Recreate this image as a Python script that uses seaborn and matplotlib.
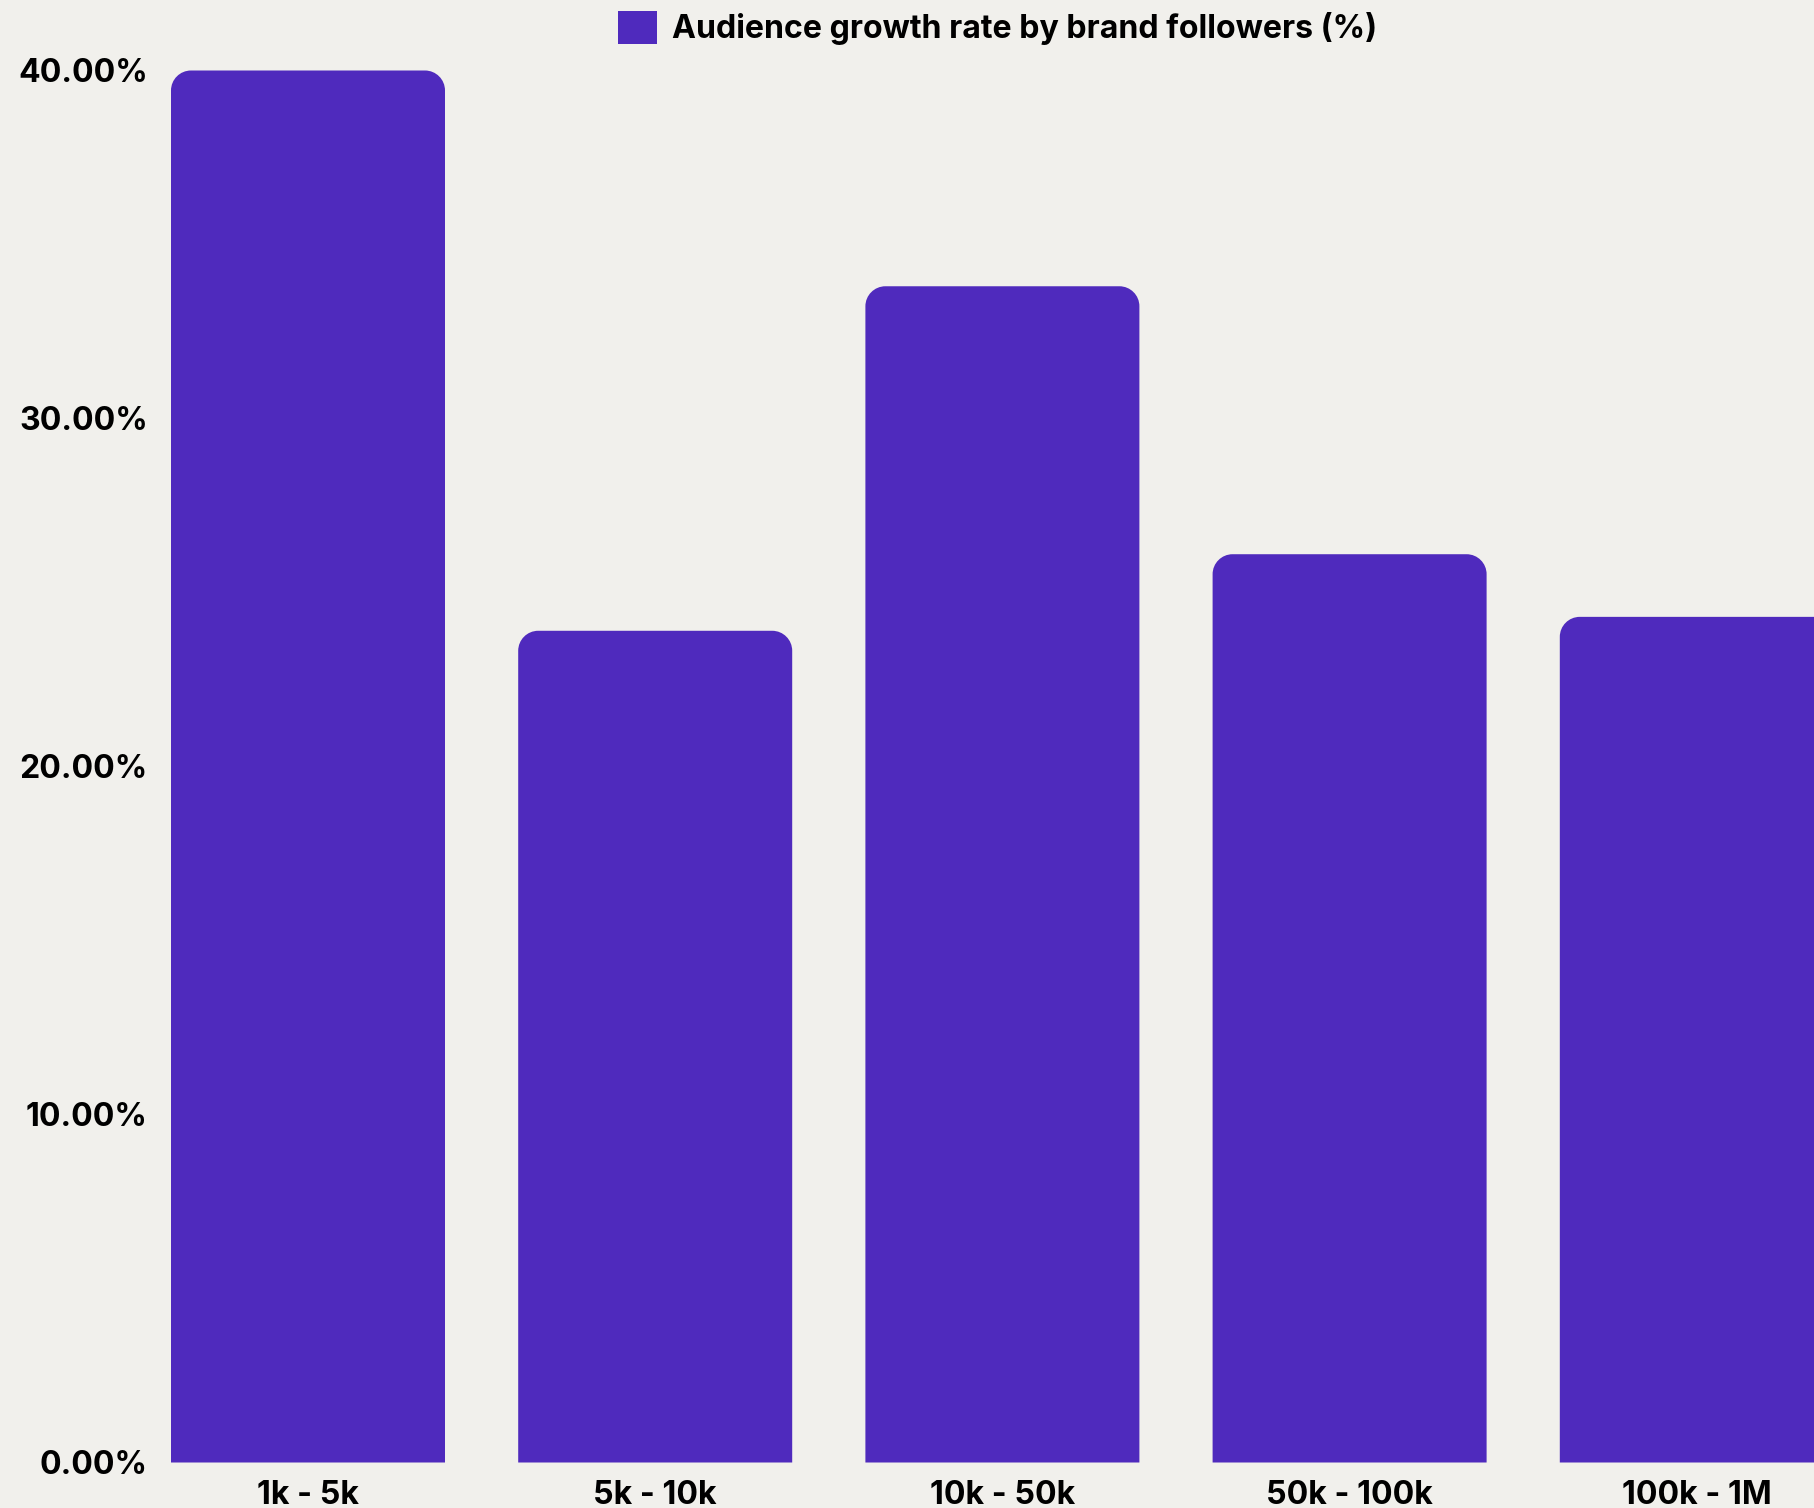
import matplotlib
matplotlib.use("Agg")
import matplotlib.pyplot as plt
from matplotlib.path import Path
from matplotlib.patches import PathPatch, Patch
import pandas as pd
import seaborn as sns

# Audience growth by follower bracket
categories = ["1k - 5k", "5k - 10k", "10k - 50k", "50k - 100k", "100k - 1M"]
growth_rate = [40.0, 23.9, 33.8, 26.1, 24.3]
y_ticks = [0, 10, 20, 30, 40]
series_name = "Audience growth rate by brand followers (%)"

BAR = "#4F2ABD"
BG = "#F1F0EC"
FONT = ["Inter", "DejaVu Sans"]
FS = 23.1

sns.set_theme(style="white")
plt.rcParams["font.family"] = FONT
plt.rcParams["font.weight"] = "bold"
plt.rcParams["text.color"] = "black"

W, H = 1814, 1508
fig = plt.figure(figsize=(W / 100, H / 100), dpi=100, facecolor=BG)

# axes geometry in pixels
left_px, bottom_px = 150, 1462.5
px_per_cat, first_center = 347.2, 308.0
px_per_unit = 34.8
ax = fig.add_axes([left_px / W, (H - bottom_px) / H, 1 - left_px / W, bottom_px / H])
ax.set_facecolor(BG)

df = pd.DataFrame({"bracket": categories, "rate": growth_rate})
sns.barplot(data=df, x="bracket", y="rate", color=BAR, saturation=1,
            width=274 / px_per_cat, ax=ax, errorbar=None)

ax.set_xlim((left_px - first_center) / px_per_cat, (W - first_center) / px_per_cat)
ax.set_ylim(0, bottom_px / px_per_unit)

# swap plain rectangles for bars with rounded top corners
rx = 20 / px_per_cat
ry = 20 / px_per_unit
k = 0.5523
for bar in list(ax.patches):
    x0, y0 = bar.get_x(), bar.get_y()
    w, h = bar.get_width(), bar.get_height()
    x1, y1 = x0 + w, y0 + h
    verts = [(x0, y0), (x0, y1 - ry),
             (x0, y1 - ry + k * ry), (x0 + rx - k * rx, y1), (x0 + rx, y1),
             (x1 - rx, y1),
             (x1 - rx + k * rx, y1), (x1, y1 - ry + k * ry), (x1, y1 - ry),
             (x1, y0), (x0, y0)]
    codes = [Path.MOVETO, Path.LINETO,
             Path.CURVE4, Path.CURVE4, Path.CURVE4,
             Path.LINETO,
             Path.CURVE4, Path.CURVE4, Path.CURVE4,
             Path.LINETO, Path.CLOSEPOLY]
    ax.add_patch(PathPatch(Path(verts, codes), facecolor=BAR, edgecolor="none", clip_on=True))
    bar.remove()

ax.set_yticks(y_ticks)
ax.set_yticklabels([f"{v:.2f}%" for v in y_ticks])
ax.tick_params(axis="y", length=0, pad=1.5, labelsize=FS, labelcolor="black")
ax.tick_params(axis="x", length=0, pad=12.5, labelsize=FS, labelcolor="black")
for lab in ax.get_xticklabels() + ax.get_yticklabels():
    lab.set_fontweight("bold")
    lab.set_family(FONT)
ax.set_xlabel("")
ax.set_ylabel("")
ax.grid(False)
sns.despine(ax=ax, left=True, bottom=True)

handle = Patch(facecolor=BAR, edgecolor="none")
fig.legend([handle], [series_name], loc="upper left",
           bbox_to_anchor=(618 / W, 1 - 11 / H), frameon=False,
           borderpad=0, borderaxespad=0, handlelength=1.22, handleheight=1.22,
           handletextpad=0.45, labelcolor="black",
           prop={"family": FONT, "weight": "bold", "size": FS})

fig.savefig("out.png", dpi=100, facecolor=BG)
